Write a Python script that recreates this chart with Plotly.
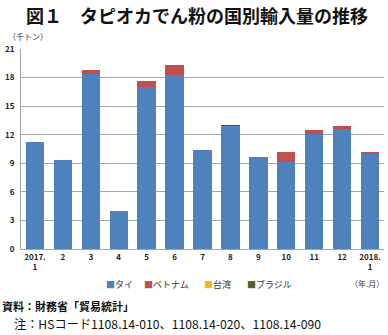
import plotly.graph_objects as go

# Monthly import volume of tapioca starch by country (thousand tonnes)
months = ["2017.<br>1", "2", "3", "4", "5", "6", "7", "8", "9", "10", "11", "12", "2018.<br>1"]
thailand = [11.2, 9.3, 18.35, 4.0, 17.0, 18.25, 10.4, 12.95, 9.65, 9.15, 12.1, 12.65, 10.0]
vietnam = [0.0, 0.0, 0.45, 0.0, 0.65, 1.1, 0.0, 0.0, 0.0, 1.05, 0.4, 0.25, 0.1]
taiwan = [0.0, 0.0, 0.0, 0.0, 0.0, 0.0, 0.0, 0.0, 0.0, 0.0, 0.0, 0.0, 0.0]
brazil = [0.0, 0.0, 0.0, 0.0, 0.0, 0.0, 0.0, 0.06, 0.0, 0.0, 0.0, 0.0, 0.0]

series = [
    ("タイ", thailand, "#4F81BD"),
    ("ベトナム", vietnam, "#C0504D"),
    ("台湾", taiwan, "#E3BE2C"),
    ("ブラジル", brazil, "#4F6228"),
]

FONT = "Noto Sans CJK JP"

fig = go.Figure()
for name, vals, color in series:
    fig.add_trace(go.Bar(x=months, y=vals, name=name, marker_color=color,
                         marker_line_width=0, showlegend=False))

# plot-area geometry (pixels) used to place the surrounding text
L, R, T, B = 21, 4, 49, 86
W, H = 388, 335
pw, ph = W - L - R, H - T - B

def px(x):
    return (x - L) / pw

def py(y):
    return (H - B - y) / ph

annotations = [
    dict(text="<b>図１　タピオカでん粉の国別輸入量の推移</b>", x=px(197), y=py(15),
         font=dict(size=18, color="#111"), xanchor="center", yanchor="middle"),
    dict(text="（千トン）", x=px(28), y=py(36), font=dict(size=8, color="#333"),
         xanchor="center", yanchor="middle"),
    dict(text="（年.月）", x=px(386), y=py(283), font=dict(size=8, color="#333"),
         xanchor="right", yanchor="middle"),
    dict(text="<b>資料：財務省「貿易統計」</b>", x=px(0), y=py(306), font=dict(size=11, color="#111"),
         xanchor="left", yanchor="middle"),
    dict(text="注：HSコード1108.14-010、1108.14-020、1108.14-090", x=px(12), y=py(324),
         font=dict(size=12.2, color="#111"), xanchor="left", yanchor="middle"),
]

# legend row
legend_x = [104, 142, 202, 245]
for (name, _, color), lx in zip(series, legend_x):
    annotations.append(dict(
        text=f"<span style='color:{color}'>■</span>{name}", x=px(lx), y=py(284),
        font=dict(size=9, color="#333"), xanchor="left", yanchor="middle"))

for a in annotations:
    a.update(xref="paper", yref="paper", showarrow=False)
    a["font"]["family"] = FONT

fig.update_layout(
    width=W, height=H,
    margin=dict(l=L, r=R, t=T, b=B),
    barmode="stack", bargap=0.34,
    plot_bgcolor="white", paper_bgcolor="white",
    font=dict(family=FONT, size=9, color="#222"),
    annotations=annotations,
    xaxis=dict(type="category", showgrid=False, showline=True, linecolor="#A6A6A6",
               linewidth=1, ticks="",
               tickfont=dict(size=8, color="#222", weight="bold")),
    yaxis=dict(range=[0, 21], tickvals=[0, 3, 6, 9, 12, 15, 18, 21],
               showgrid=True, gridcolor="#A6A6A6", gridwidth=1,
               showline=True, linecolor="#A6A6A6", linewidth=1,
               zeroline=False, ticks="", ticklabelstandoff=4,
               tickfont=dict(size=8, color="#222", weight="bold")),
)

fig.write_html("out.html")
